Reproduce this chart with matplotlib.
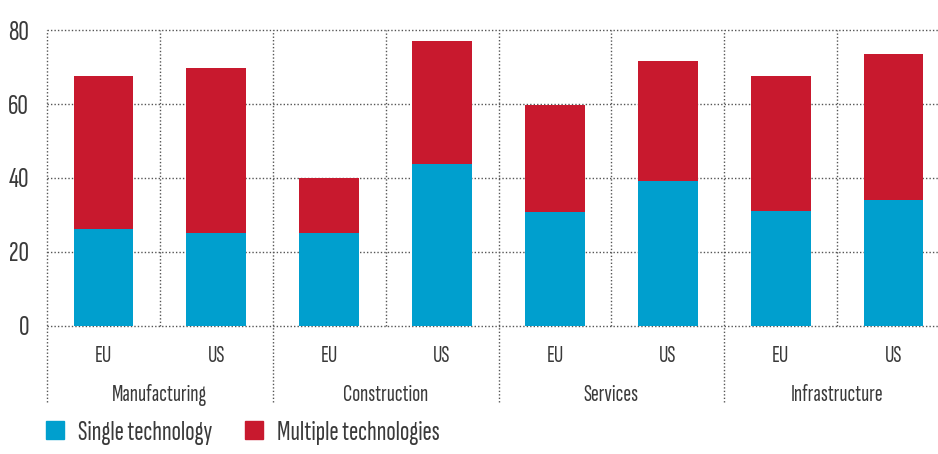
import matplotlib
matplotlib.use('Agg')
import matplotlib.pyplot as plt
import matplotlib.transforms as mtransforms
from matplotlib.patches import Patch

sectors = ['Manufacturing', 'Construction', 'Services', 'Infrastructure']
regions = ['EU', 'US', 'EU', 'US', 'EU', 'US', 'EU', 'US']
single_tech = [26.3, 25.2, 25.0, 43.9, 30.8, 39.3, 31.1, 34.1]
multiple_tech = [41.2, 44.7, 15.1, 33.3, 29.1, 32.5, 36.6, 39.5]

BLUE = '#009fce'
RED = '#c8192e'
TEXT = '#3a3a3a'
GRID = '#555555'

plt.rcParams['font.family'] = ['Sofia Sans Extra Condensed', 'DejaVu Sans']

fig = plt.figure(figsize=(9.38, 4.54), dpi=100)
ax = fig.add_axes([0.0501, 0.2826, 0.9627, 0.6507])

x = list(range(len(regions)))
ax.bar(x, single_tech, width=0.53, color=BLUE, zorder=3)
ax.bar(x, multiple_tech, width=0.53, bottom=single_tech, color=RED, zorder=3)

ax.set_xlim(-0.5, len(regions) - 0.5)
ax.set_ylim(0, 80)
ax.set_yticks([0, 20, 40, 60, 80])
for s in ax.spines.values():
    s.set_visible(False)
ax.tick_params(length=0, colors=TEXT)
ax.tick_params(axis='y', labelsize=21, pad=13)
ax.tick_params(axis='x', labelsize=17, pad=14)
ax.set_xticks(x)
ax.set_xticklabels(regions)

# dotted horizontal grid
for y in [0, 20, 40, 60, 80]:
    ax.axhline(y, color=GRID, lw=1, ls=(0, (1, 1.5)), zorder=1, clip_on=False)

# separators: inside a sector they stop at zero, between sectors they run down past the labels
trans = mtransforms.blended_transform_factory(ax.transData, ax.transAxes)
for i in range(len(regions)):
    xb = i - 0.5
    y0 = -0.258 if i % 2 == 0 else 0
    ax.plot([xb, xb], [y0, 1], transform=trans, color=GRID, lw=1,
            ls=(0, (1, 1.5)), clip_on=False, zorder=1)

for k, name in enumerate(sectors):
    ax.text(2 * k + 0.5, -0.235, name, transform=trans, ha='center', va='center',
            fontsize=17, color=TEXT)

handles = [Patch(color=BLUE, label='Single technology'),
           Patch(color=RED, label='Multiple technologies')]
fig.legend(handles=handles, loc='lower left', bbox_to_anchor=(0.022, -0.035),
           ncol=2, frameon=False, fontsize=20, labelcolor=TEXT,
           handlelength=0.65, handleheight=0.65, handletextpad=0.5,
           columnspacing=1.2)

fig.savefig('out.png', dpi=100)
plt.close(fig)
